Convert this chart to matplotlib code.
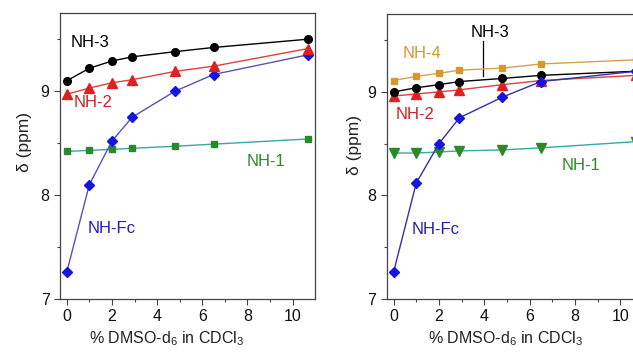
import matplotlib.pyplot as plt

plt.rcParams['font.family'] = ['Liberation Sans', 'DejaVu Sans']
plt.rcParams['mathtext.fontset'] = 'custom'
plt.rcParams['mathtext.rm'] = 'Liberation Sans'
plt.rcParams['mathtext.it'] = 'Liberation Sans'

# % DMSO-d6 in CDCl3
dmso = [0, 1, 2, 2.9, 4.8, 6.5, 10.7]

# left panel
a_nh3 = [9.10, 9.22, 9.29, 9.33, 9.38, 9.42, 9.50]
a_nh2 = [8.97, 9.03, 9.08, 9.11, 9.19, 9.24, 9.41]
a_nhfc = [7.26, 8.10, 8.52, 8.75, 9.00, 9.16, 9.35]
a_nh1 = [8.42, 8.43, 8.44, 8.45, 8.47, 8.49, 8.54]

# right panel
b_nh4 = [9.11, 9.15, 9.18, 9.21, 9.23, 9.27, 9.31]
b_nh3 = [9.00, 9.04, 9.07, 9.10, 9.13, 9.16, 9.20]
b_nh2 = [8.96, 8.98, 9.00, 9.02, 9.07, 9.11, 9.16]
b_nhfc = [7.26, 8.12, 8.50, 8.75, 8.95, 9.10, 9.20]
b_nh1 = [8.41, 8.41, 8.42, 8.43, 8.44, 8.46, 8.52]

BLACK = '#000000'
RED = '#e02020'
BLUE = '#1515e0'
GREEN = '#2a8a2a'
ORANGE = '#d8962e'

fig = plt.figure(figsize=(6.33, 3.56), dpi=100)
ax1 = fig.add_axes([0.0948, 0.160, 0.403, 0.803])
ax2 = fig.add_axes([0.611, 0.160, 0.405, 0.800])


def series(ax, y, line, mk, marker, ms=6):
    ax.plot(dmso, y, color=line, lw=1, marker=marker, ms=ms,
            mfc=mk, mec=mk, zorder=3)


series(ax1, a_nh1, '#3aa6a6', GREEN, 's', 5)
series(ax1, a_nhfc, '#5555b0', BLUE, 'D', 5)
series(ax1, a_nh2, '#e04040', RED, '^', 6.5)
series(ax1, a_nh3, BLACK, BLACK, 'o', 5.5)

series(ax2, b_nh1, '#3aa6a6', GREEN, 'v', 6.5)
series(ax2, b_nh4, '#d8a050', ORANGE, 's', 5)
series(ax2, b_nh2, '#e04040', RED, '^', 6.5)
series(ax2, b_nh3, BLACK, BLACK, 'o', 5.5)
series(ax2, b_nhfc, '#3030b0', BLUE, 'D', 5)

fs = 12
ax1.text(1.03, 9.47, 'NH-3', color=BLACK, fontsize=fs, ha='center', va='center')
ax1.text(1.16, 8.89, 'NH-2', color='#cc2222', fontsize=fs, ha='center', va='center')
ax1.text(8.83, 8.32, 'NH-1', color=GREEN, fontsize=fs, ha='center', va='center')
ax1.text(2.0, 7.68, 'NH-Fc', color='#2020b0', fontsize=fs, ha='center', va='center')

ax2.text(1.25, 9.37, 'NH-4', color=ORANGE, fontsize=fs, ha='center', va='center')
ax2.text(4.27, 9.57, 'NH-3', color=BLACK, fontsize=fs, ha='center', va='center')
ax2.plot([3.95, 3.95], [9.49, 9.15], color=BLACK, lw=0.9)
ax2.text(0.96, 8.78, 'NH-2', color='#cc2222', fontsize=fs, ha='center', va='center')
ax2.text(8.24, 8.29, 'NH-1', color=GREEN, fontsize=fs, ha='center', va='center')
ax2.text(1.84, 7.67, 'NH-Fc', color='#2020b0', fontsize=fs, ha='center', va='center')

for ax in (ax1, ax2):
    ax.set_xlim(-0.3, 11)
    ax.set_ylim(7, 9.75)
    ax.set_xticks([0, 2, 4, 6, 8, 10])
    ax.set_xticks([1, 3, 5, 7, 9], minor=True)
    ax.set_yticks([7, 8, 9])
    ax.set_yticks([7.5, 8.5, 9.5], minor=True)
    ax.tick_params(which='major', direction='out', length=4, width=0.8,
                   labelsize=11.5, colors='#444444', labelcolor='#111111')
    ax.tick_params(which='minor', direction='out', length=2.5, width=0.8,
                   colors='#444444')
    for s in ax.spines.values():
        s.set_color('#444444')
        s.set_linewidth(0.9)
    ax.set_xlabel('% DMSO-d$_6$ in CDCl$_3$', fontsize=11.5, color='#222222')
    ax.set_ylabel('δ (ppm)', fontsize=12.5, color='#222222')

ax1.xaxis.set_label_coords(0.416, -0.105)
ax2.xaxis.set_label_coords(0.465, -0.105)
ax1.yaxis.set_label_coords(-0.11, 0.55)
ax2.yaxis.set_label_coords(-0.097, 0.54)

fig.savefig('out.png', dpi=100)
